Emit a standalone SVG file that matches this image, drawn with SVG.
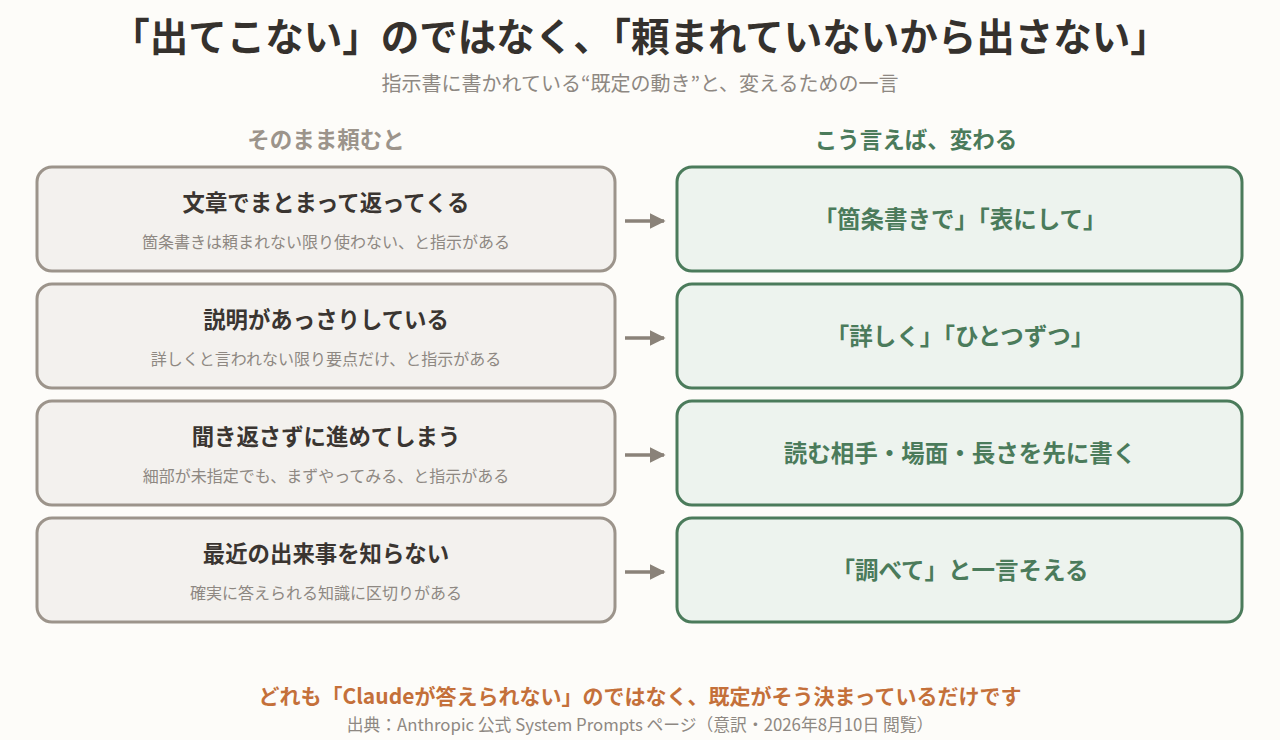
<svg xmlns="http://www.w3.org/2000/svg" width="1280" height="740" viewBox="0 0 1280 740">
<defs>
<style>
text{font-family:"Noto Sans CJK JP","Noto Sans",sans-serif;text-anchor:middle}
.l{fill:#f3f1ee;stroke:#9c948b;stroke-width:3}
.r{fill:#edf3ee;stroke:#4b7b5b;stroke-width:3}
.lt{font-size:22.4px;font-weight:bold;fill:#3a3531}
.ls{font-size:16px;fill:#8e8882}
.rt{font-size:23.5px;font-weight:bold;fill:#4b7b5b}
.a{stroke:#8a8279;stroke-width:3.5;fill:none}
</style>
<marker id="ah" viewBox="0 0 10 10" refX="9" refY="5" markerWidth="4.5" markerHeight="4.5" orient="auto"><path d="M0,0L10,5L0,10z" fill="#8a8279"/></marker>
</defs>
<rect width="1280" height="740" fill="#fdfcf9"/>
<text x="640" y="51" style="font-size:38.5px;font-weight:bold;fill:#35312d">「出てこない」のではなく、「頼まれていないから出さない」</text>
<text x="640" y="91" style="font-size:20px;fill:#8e8882">指示書に書かれている“既定の動き”と、変えるための一言</text>
<text x="326" y="148" style="font-size:22.5px;font-weight:bold;fill:#9c948b">そのまま頼むと</text>
<text x="916" y="148" style="font-size:22.5px;font-weight:bold;fill:#4b7b5b">こう言えば、変わる</text>
<g id="l1"><rect class="l" x="37" y="167" width="578" height="104" rx="15"/><text class="lt" x="326" y="211">文章でまとまって返ってくる</text><text class="ls" x="326" y="248">箇条書きは頼まれない限り使わない、と指示がある</text></g>
<g id="l2"><rect class="l" x="37" y="284" width="578" height="104" rx="15"/><text class="lt" x="326" y="328">説明があっさりしている</text><text class="ls" x="326" y="365">詳しくと言われない限り要点だけ、と指示がある</text></g>
<g id="l3"><rect class="l" x="37" y="401" width="578" height="104" rx="15"/><text class="lt" x="326" y="445">聞き返さずに進めてしまう</text><text class="ls" x="326" y="482">細部が未指定でも、まずやってみる、と指示がある</text></g>
<g id="l4"><rect class="l" x="37" y="518" width="578" height="104" rx="15"/><text class="lt" x="326" y="562">最近の出来事を知らない</text><text class="ls" x="326" y="599">確実に答えられる知識に区切りがある</text></g>
<g id="r1"><rect class="r" x="677" y="167" width="565" height="104" rx="15"/><text class="rt" x="960" y="228">「箇条書きで」「表にして」</text></g>
<g id="r2"><rect class="r" x="677" y="284" width="565" height="104" rx="15"/><text class="rt" x="960" y="345">「詳しく」「ひとつずつ」</text></g>
<g id="r3"><rect class="r" x="677" y="401" width="565" height="104" rx="15"/><text class="rt" x="960" y="462">読む相手・場面・長さを先に書く</text></g>
<g id="r4"><rect class="r" x="677" y="518" width="565" height="104" rx="15"/><text class="rt" x="960" y="579">「調べて」と一言そえる</text></g>
<g id="connectors">
<path class="a" d="M625 221H664" marker-end="url(#ah)"/>
<path class="a" d="M625 338H664" marker-end="url(#ah)"/>
<path class="a" d="M625 455H664" marker-end="url(#ah)"/>
<path class="a" d="M625 572H664" marker-end="url(#ah)"/>
</g>
<text x="640" y="704" style="font-size:21px;font-weight:bold;fill:#c4703a">どれも「Claudeが答えられない」のではなく、既定がそう決まっているだけです</text>
<text x="640" y="731" style="font-size:16.8px;fill:#8e8882">出典：Anthropic 公式 System Prompts ページ（意訳・2026年8月10日 閲覧）</text>
</svg>
